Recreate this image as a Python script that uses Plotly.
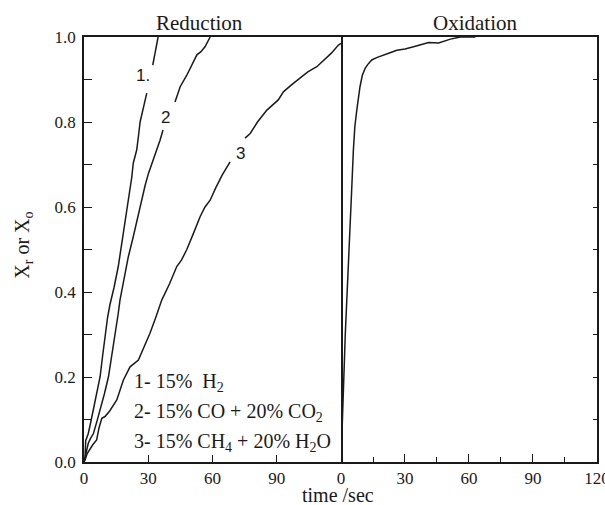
import plotly.graph_objects as go

# Reduction runs (time in s, fractional conversion X_r); None marks the break left for the curve label
t_h2 = [0, 0.5, 0.8, 2.0, 3.0, 4.4, 6.0, 7.5, 8.7, 9.8, 11.0, 12.1, 14.0, 16.0, 17.2, 18.4, 20.0,
        21.5, 22.3, 23.0, 24.6, 25.5, 26.2, 27.8, 29.3, None, 32.1, 33.4, 34.6]
x_h2 = [0, 0.012, 0.05, 0.067, 0.09, 0.122, 0.16, 0.2, 0.25, 0.295, 0.34, 0.37, 0.41, 0.46, 0.5,
        0.538, 0.59, 0.633, 0.67, 0.703, 0.734, 0.77, 0.8, 0.835, 0.868, None, 0.934, 0.965, 1.0]

t_co = [0, 0.5, 1.2, 2.0, 3.0, 4.4, 6.0, 7.5, 9.5, 11.4, 13.0, 14.5, 16.0, 16.8, 18.4, 20.7, 23.0,
        25.0, 27.0, 28.5, 30.1, 32.0, 34.0, 35.5, 36.9, None, 42.5, 44.9, 48.0, 50.5, 52.7, 54.5,
        56.5, 58.9]
x_co = [0, 0.01, 0.03, 0.044, 0.055, 0.067, 0.095, 0.122, 0.16, 0.2, 0.25, 0.295, 0.35, 0.381,
        0.42, 0.483, 0.53, 0.575, 0.616, 0.65, 0.679, 0.705, 0.734, 0.757, 0.781, None, 0.847,
        0.883, 0.91, 0.935, 0.958, 0.965, 0.977, 1.0]

t_ch4 = [0, 0.5, 1.5, 2.8, 4.0, 5.9, 7.0, 8.3, 9.8, 12.0, 15.3, 18.4, 21.5, 25.4, 28.0, 30.8, 33.5,
         36.3, 40.0, 43.3, 45.5, 48.0, 51.1, 54.2, 56.5, 58.9, 61.5, 64.5, 68.2, None, 75.2, 77.6,
         81.0, 85.4, 90.7, 93.1, 97.0, 100.9, 104.5, 108.7, 112.0, 115.5, 118.8, 120.0]
x_ch4 = [0, 0.005, 0.02, 0.032, 0.04, 0.052, 0.08, 0.103, 0.107, 0.12, 0.146, 0.193, 0.224, 0.24,
         0.27, 0.303, 0.34, 0.381, 0.42, 0.46, 0.475, 0.50, 0.538, 0.577, 0.60, 0.616, 0.645,
         0.675, 0.706, None, 0.762, 0.773, 0.80, 0.828, 0.852, 0.871, 0.888, 0.903, 0.918, 0.930,
         0.945, 0.962, 0.981, 0.985]

# Oxidation run (X_o)
t_ox = [0, 0.5, 1.1, 2.0, 2.7, 3.5, 4.2, 5.0, 5.8, 6.5, 7.4, 8.9, 10.0, 11.3, 12.5, 14.4, 17.0,
        19.9, 23.0, 26.2, 30.0, 34.0, 38.0, 41.1, 45.8, 48.5, 51.3, 56.0, 63.0]
x_ox = [0, 0.08, 0.19, 0.30, 0.38, 0.46, 0.54, 0.64, 0.734, 0.79, 0.828, 0.883, 0.91, 0.926,
        0.935, 0.946, 0.952, 0.958, 0.963, 0.969, 0.972, 0.977, 0.983, 0.987, 0.986, 0.99, 0.995,
        1.0, 1.0]

x_ticks = [0, 30, 60, 90, 120]
y_ticks = [0.0, 0.2, 0.4, 0.6, 0.8, 1.0]
legend_lines = ["1- 15%&nbsp; H<sub>2</sub>",
                "2- 15% CO + 20% CO<sub>2</sub>",
                "3- 15% CH<sub>4</sub> + 20% H<sub>2</sub>O"]

SERIF = "Liberation Serif, Times New Roman, serif"
SANS = "Liberation Sans, Arial, sans-serif"
INK = "#1a1a1a"

fig = go.Figure()
line = dict(color=INK, width=1.5)
for t, x in [(t_h2, x_h2), (t_co, x_co), (t_ch4, x_ch4)]:
    fig.add_trace(go.Scatter(x=t, y=x, mode="lines", line=line, xaxis="x", yaxis="y",
                             connectgaps=False, showlegend=False, hoverinfo="skip"))
fig.add_trace(go.Scatter(x=t_ox, y=x_ox, mode="lines", line=line, xaxis="x2", yaxis="y2",
                         showlegend=False, hoverinfo="skip"))

tickfont = dict(family=SERIF, size=17, color=INK)
axis_common = dict(showline=True, linecolor=INK, linewidth=1.8, showgrid=False,
                   zeroline=False, ticks="inside", tickcolor=INK, tickwidth=1.3, tickfont=tickfont,
                   ticklabeloverflow="allow", automargin=False)

fig.update_layout(
    width=605, height=505,
    margin=dict(l=84, r=8, t=37, b=43),
    paper_bgcolor="white", plot_bgcolor="white",
    xaxis=dict(axis_common, mirror=True, domain=[0, 0.501], range=[0, 120],
               tickvals=x_ticks[:-1], ticklen=7, anchor="y"),
    xaxis2=dict(axis_common, mirror=True, domain=[0.501, 1], range=[0, 120.05],
                tickvals=x_ticks, ticklen=8,
                minor=dict(dtick=15, ticks="inside", ticklen=5, tickcolor=INK, tickwidth=1.3),
                anchor="y2"),
    yaxis=dict(axis_common, mirror=True, range=[0, 1], tickvals=y_ticks, tickformat=".1f",
               ticklen=8, ticklabelstandoff=3,
               minor=dict(dtick=0.1, ticks="inside", ticklen=8, tickcolor=INK, tickwidth=1.3),
               anchor="x"),
    yaxis2=dict(axis_common, mirror=False, range=[0, 1], side="right", anchor="x2",
                tickvals=y_ticks, showticklabels=False, ticklen=4,
                minor=dict(dtick=0.1, ticks="inside", ticklen=4, tickcolor=INK, tickwidth=1.3)),
)


def paper_text(txt, x, y, size, family=SERIF, angle=0):
    return dict(text=txt, x=x, y=y, xref="paper", yref="paper", xanchor="center",
                yanchor="middle", textangle=angle, showarrow=False,
                font=dict(family=family, size=size, color=INK))


ann = [
    paper_text("Reduction", 0.226, 1.033, 21),
    paper_text("Oxidation", 0.762, 1.033, 21),
    paper_text("time /sec", 0.495, -0.077, 20),
    paper_text("X<sub>r</sub> or X<sub>o</sub>", -0.118, 0.51, 20, angle=-90),
]
# curve labels
for txt, tx, ty in [("1.", 27.6, 0.91), ("2", 38.2, 0.81), ("3", 72.9, 0.727)]:
    ann.append(dict(text=txt, x=tx, y=ty, xref="x", yref="y", xanchor="center",
                    yanchor="middle", showarrow=False,
                    font=dict(family=SANS, size=17, color=INK)))
# gas composition key
for i, txt in enumerate(legend_lines):
    ann.append(dict(text=txt, x=22.4, y=0.186 - i * 0.07, xref="x", yref="y", xanchor="left",
                    yanchor="middle", showarrow=False,
                    font=dict(family=SERIF, size=20, color=INK)))
fig.update_layout(annotations=ann)

fig.write_html("out.html")
